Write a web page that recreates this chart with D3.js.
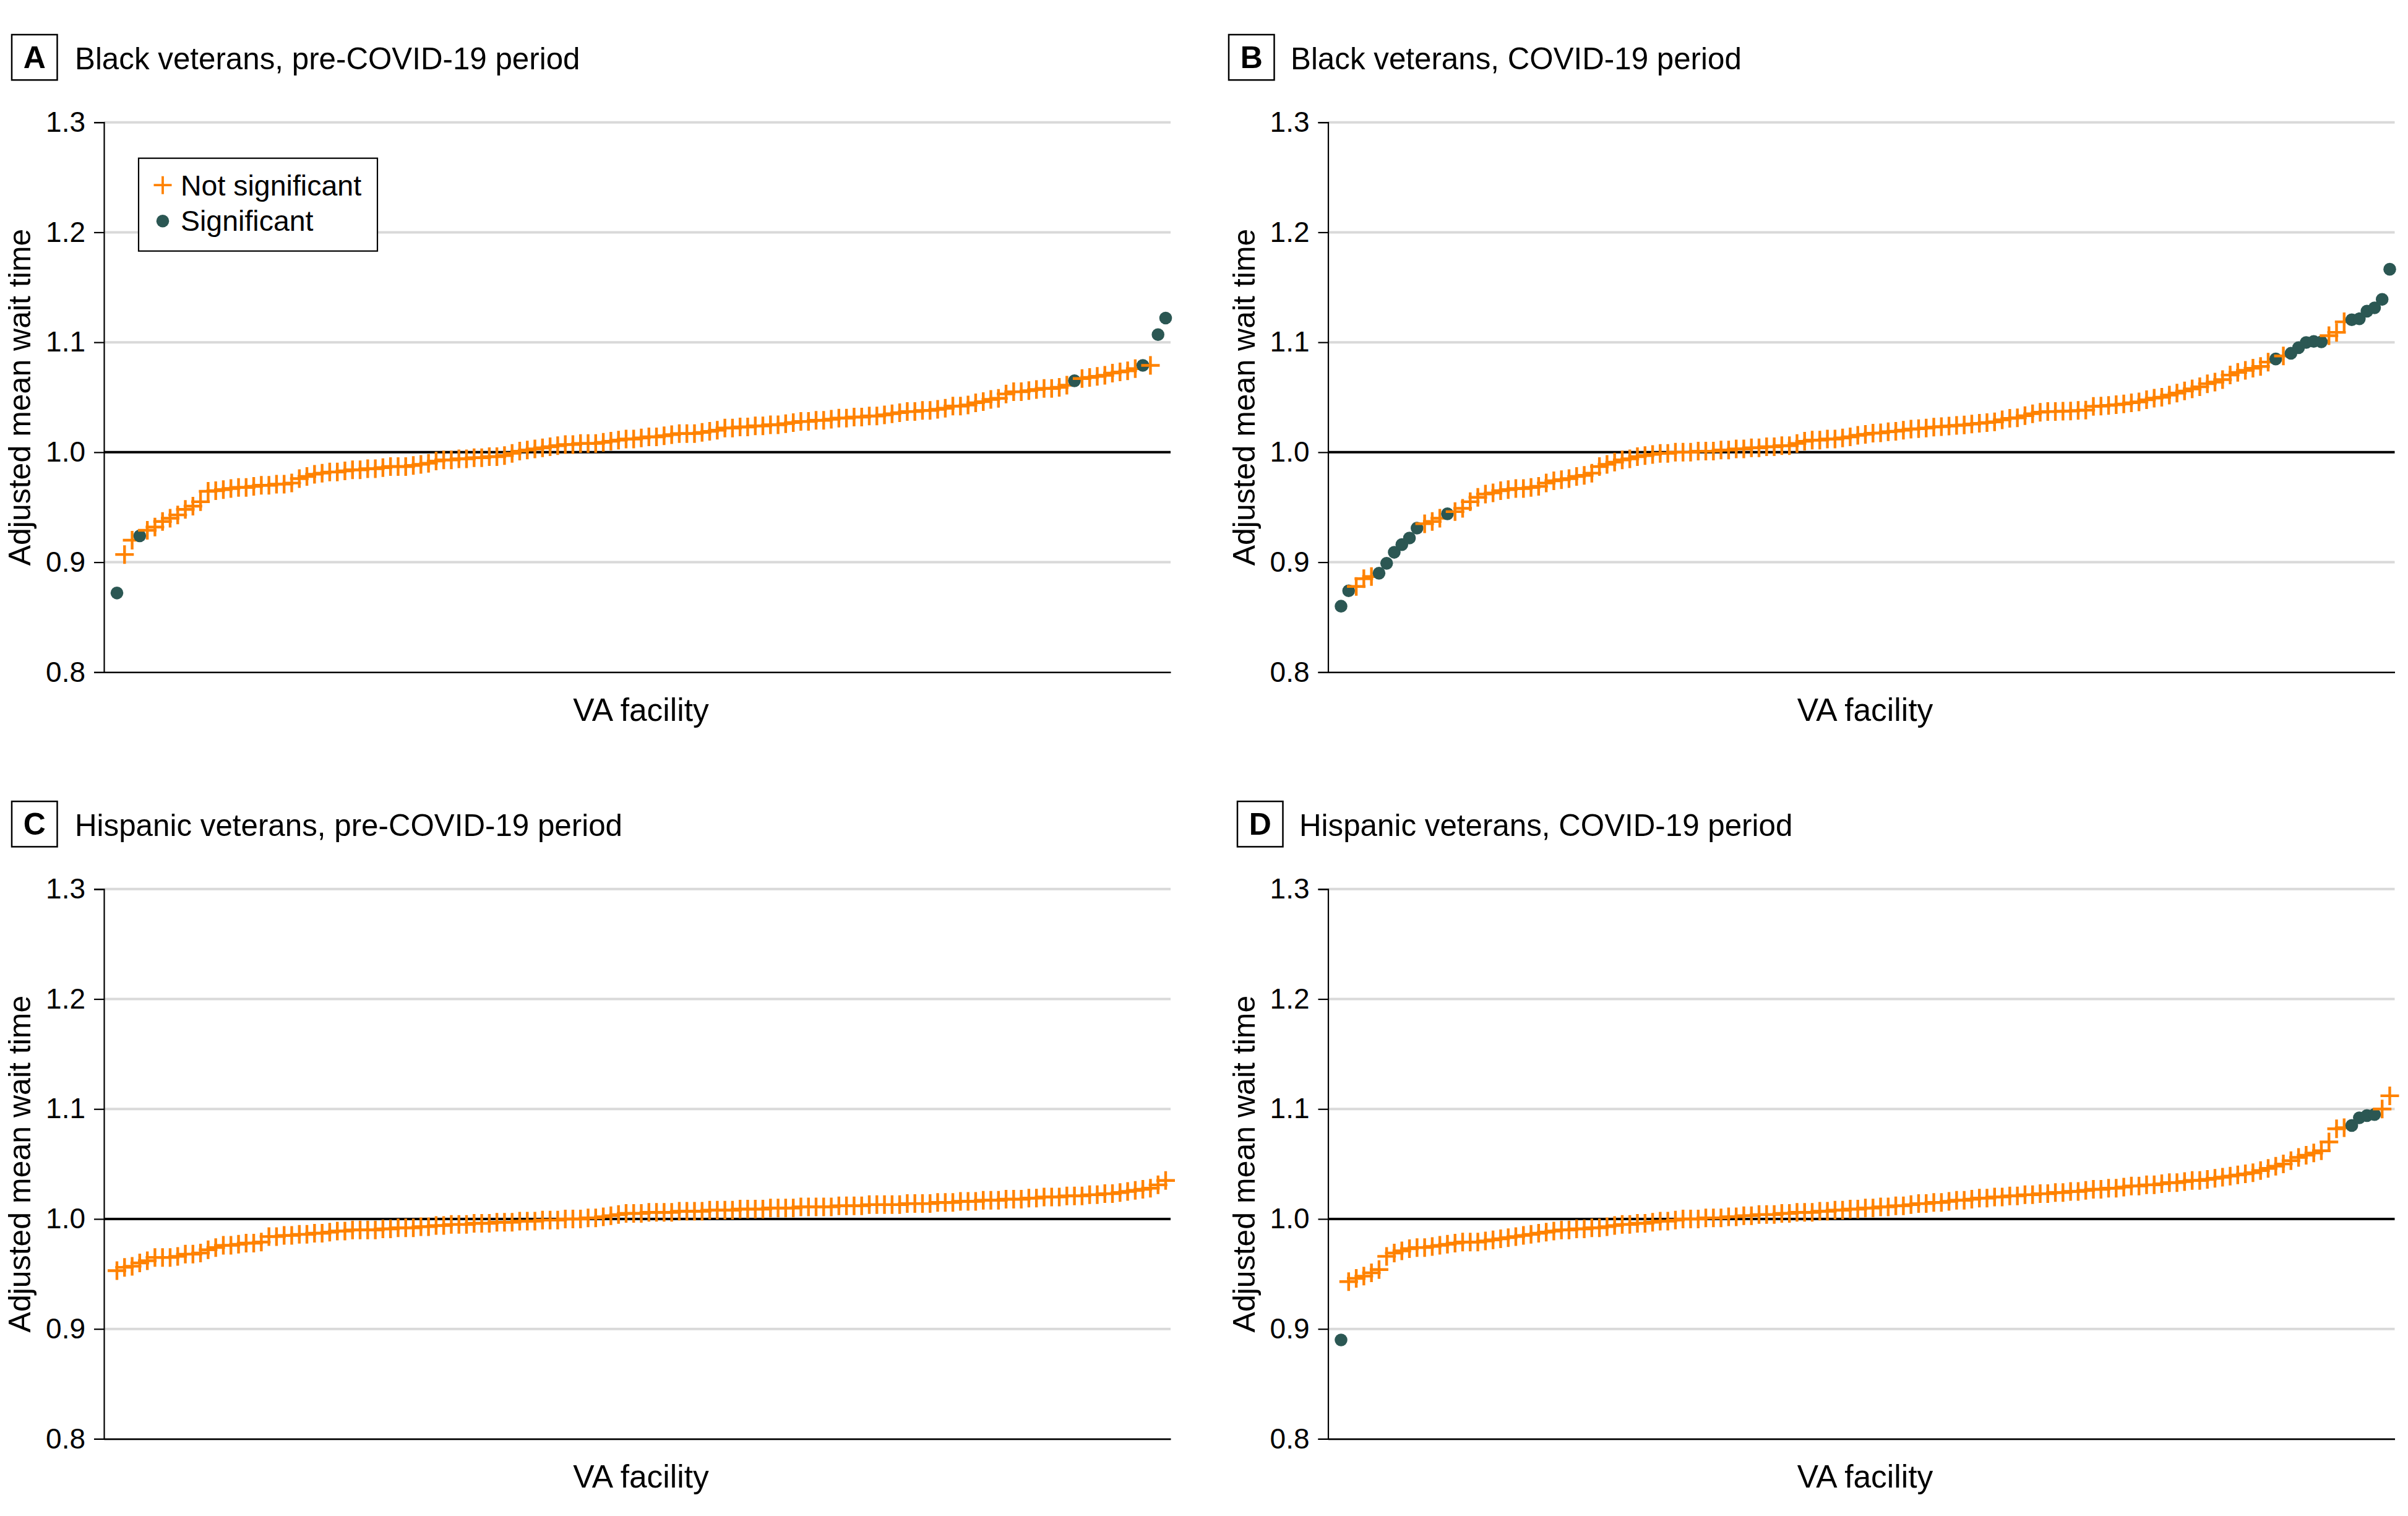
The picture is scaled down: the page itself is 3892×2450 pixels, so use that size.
<!DOCTYPE html>
<html><head><meta charset="utf-8">
<script src="https://cdn.jsdelivr.net/npm/d3@7"></script>
<style>
body{margin:0;background:#fff}
svg text{font-family:"Liberation Sans", Arial, sans-serif; fill:#000}
</style>
</head><body>
<svg id="chart" width="3892" height="2450"></svg>
<script>
// ---------------- DATA ----------------
const yTickValues = [0.8, 0.9, 1.0, 1.1, 1.2, 1.3];
const panelLetters = ["A", "B", "C", "D"];
const panelTitles = [
  "Black veterans, pre-COVID-19 period",
  "Black veterans, COVID-19 period",
  "Hispanic veterans, pre-COVID-19 period",
  "Hispanic veterans, COVID-19 period"
];
const yAxisLabel = "Adjusted mean wait time";
const xAxisLabel = "VA facility";
const legendLabels = ["Not significant", "Significant"];

// Panel A: Black veterans, pre-COVID-19 (facilities sorted by value)
const blackPre = [
  0.872,0.907,0.920,0.924,0.929,0.932,0.937,0.940,0.943,0.948,
  0.951,0.955,0.9645,0.965,0.966,0.967,0.968,0.968,0.969,0.970,
  0.970,0.971,0.971,0.972,0.976,0.978,0.980,0.981,0.982,0.982,
  0.983,0.984,0.984,0.985,0.985,0.986,0.987,0.987,0.987,0.988,
  0.989,0.990,0.992,0.993,0.993,0.994,0.994,0.995,0.995,0.996,
  0.996,0.997,0.999,1.001,1.002,1.003,1.004,1.005,1.006,1.007,
  1.007,1.008,1.008,1.008,1.009,1.010,1.011,1.012,1.012,1.013,
  1.014,1.014,1.015,1.016,1.017,1.017,1.017,1.018,1.019,1.020,
  1.022,1.022,1.023,1.023,1.024,1.024,1.025,1.025,1.026,1.027,
  1.028,1.028,1.029,1.029,1.030,1.031,1.031,1.032,1.032,1.033,
  1.033,1.034,1.035,1.036,1.037,1.037,1.038,1.038,1.039,1.040,
  1.042,1.042,1.043,1.045,1.046,1.048,1.049,1.053,1.055,1.055,
  1.056,1.057,1.058,1.058,1.059,1.061,1.065,1.067,1.068,1.069,
  1.070,1.072,1.073,1.074,1.076,1.079,1.079,1.107,1.122
];
const blackPreSignificant = [0, 3, 126, 135, 137, 138];

// Panel B: Black veterans, COVID-19
const blackCovid = [
  0.860,0.874,0.878,0.885,0.887,0.890,0.899,0.909,0.916,0.922,
  0.931,0.935,0.937,0.940,0.944,0.946,0.949,0.955,0.959,0.962,
  0.963,0.965,0.966,0.967,0.967,0.968,0.969,0.972,0.974,0.975,
  0.976,0.978,0.979,0.981,0.987,0.989,0.991,0.993,0.994,0.996,
  0.997,0.998,0.999,0.999,1.000,1.000,1.000,1.001,1.001,1.001,
  1.002,1.002,1.003,1.003,1.004,1.004,1.005,1.005,1.006,1.006,
  1.008,1.010,1.011,1.011,1.012,1.012,1.013,1.014,1.0154,1.0163,
  1.0173,1.0176,1.0186,1.0191,1.020,1.021,1.0214,1.022,1.0229,1.0233,
  1.0238,1.0244,1.0248,1.0257,1.0263,1.027,1.0276,1.0295,1.0308,1.0313,
  1.0332,1.035,1.0364,1.037,1.037,1.0373,1.0375,1.038,1.0383,1.0417,
  1.042,1.0426,1.0432,1.0439,1.045,1.0458,1.0477,1.0492,1.050,1.052,
  1.0538,1.0557,1.0576,1.0595,1.0623,1.0638,1.066,1.0702,1.0726,1.0745,
  1.0764,1.078,1.082,1.0848,1.0876,1.090,1.0951,1.0998,1.1008,1.1004,
  1.106,1.109,1.1186,1.1205,1.1214,1.1283,1.1313,1.139,1.1664
];
const blackCovidSignificant = [0,1,5,6,7,8,9,10,14,123,125,126,127,128,129,133,134,135,136,137,138];

// Panel C: Hispanic veterans, pre-COVID-19
const hispanicPre = [
  0.953,0.956,0.957,0.960,0.962,0.965,0.965,0.965,0.966,0.968,
  0.968,0.969,0.972,0.974,0.976,0.976,0.977,0.978,0.978,0.979,
  0.984,0.984,0.985,0.985,0.986,0.986,0.987,0.987,0.988,0.989,
  0.989,0.990,0.990,0.990,0.990,0.991,0.991,0.992,0.992,0.992,
  0.993,0.993,0.994,0.994,0.995,0.995,0.995,0.996,0.996,0.996,
  0.997,0.997,0.997,0.998,0.998,0.998,0.999,0.999,0.999,1.000,
  1.000,1.000,1.001,1.001,1.002,1.003,1.004,1.005,1.005,1.005,
  1.006,1.006,1.006,1.006,1.007,1.007,1.007,1.007,1.008,1.008,
  1.008,1.008,1.009,1.009,1.009,1.009,1.010,1.010,1.010,1.010,
  1.011,1.011,1.011,1.011,1.011,1.012,1.012,1.012,1.012,1.013,
  1.013,1.013,1.013,1.013,1.014,1.014,1.014,1.014,1.015,1.015,
  1.015,1.016,1.016,1.016,1.017,1.017,1.017,1.018,1.018,1.018,
  1.019,1.019,1.020,1.020,1.020,1.021,1.021,1.021,1.022,1.022,
  1.023,1.023,1.024,1.025,1.026,1.027,1.028,1.031,1.035
];
const hispanicPreSignificant = [];

// Panel D: Hispanic veterans, COVID-19
const hispanicCovid = [
  0.890,0.943,0.946,0.948,0.951,0.954,0.966,0.969,0.971,0.973,
  0.974,0.974,0.975,0.976,0.977,0.978,0.979,0.979,0.979,0.980,
  0.981,0.982,0.983,0.984,0.985,0.986,0.987,0.988,0.989,0.990,
  0.990,0.991,0.991,0.992,0.992,0.993,0.994,0.995,0.995,0.996,
  0.996,0.997,0.998,0.998,0.999,1.000,1.000,1.000,1.001,1.001,
  1.001,1.002,1.002,1.003,1.003,1.004,1.004,1.004,1.005,1.005,
  1.006,1.006,1.006,1.007,1.007,1.008,1.008,1.009,1.009,1.010,
  1.010,1.011,1.011,1.012,1.012,1.013,1.014,1.014,1.015,1.015,
  1.016,1.017,1.017,1.018,1.019,1.019,1.020,1.020,1.021,1.021,
  1.022,1.022,1.023,1.023,1.024,1.024,1.025,1.025,1.026,1.027,
  1.027,1.028,1.028,1.029,1.030,1.030,1.031,1.031,1.032,1.033,
  1.033,1.034,1.035,1.035,1.036,1.037,1.038,1.039,1.040,1.041,
  1.042,1.044,1.046,1.048,1.050,1.053,1.056,1.058,1.060,1.062,
  1.070,1.082,1.083,1.085,1.092,1.094,1.095,1.100,1.112
];
const hispanicCovidSignificant = [0, 133, 134, 135, 136];

// ---------------- LAYOUT / STYLE ----------------
const COLOR_NS = "#ff8200";
const COLOR_SIG = "#2b5753";
const GRID = "#d9d9d9";
const plotW = 1724, plotH = 888.6;
const TITLE_SIZE = 49.3;

const panels = [
  {values: blackPre, sig: blackPreSignificant, left: 168, top: 197.7, boxX: 19, textX: 121, legend: true},
  {values: blackCovid, sig: blackCovidSignificant, left: 2146.5, top: 197.7, boxX: 1986, textX: 2086, legend: false},
  {values: hispanicPre, sig: hispanicPreSignificant, left: 168, top: 1436.8, boxX: 19, textX: 121, legend: false},
  {values: hispanicCovid, sig: hispanicCovidSignificant, left: 2146.5, top: 1436.8, boxX: 2000, textX: 2100, legend: false}
];

const svg = d3.select("#chart");

const plusType = {
  draw(ctx, size) {
    const r = Math.sqrt(size) / 2;
    ctx.moveTo(-r, 0); ctx.lineTo(r, 0);
    ctx.moveTo(0, -r); ctx.lineTo(0, r);
  }
};
const plusPath = d3.symbol().type(plusType).size(30 * 30)();

panels.forEach((p, pi) => {
  const g = svg.append("g").attr("transform", `translate(${p.left},${p.top})`);
  const n = p.values.length;
  const x = d3.scaleLinear().domain([0, n - 1]).range([21, 1716]);
  const y = d3.scaleLinear().domain([0.8, 1.3]).range([plotH, 0]);

  // gridlines
  g.append("g").selectAll("line").data(yTickValues.filter(v => v > 0.8))
    .join("line")
    .attr("x1", 0).attr("x2", plotW)
    .attr("y1", d => y(d)).attr("y2", d => y(d))
    .attr("stroke", d => Math.abs(d - 1.0) < 1e-9 ? "#000" : GRID)
    .attr("stroke-width", 4);

  // y axis
  const yAxis = d3.axisLeft(y).tickValues(yTickValues).tickSize(16).tickPadding(14)
    .tickFormat(d3.format(".1f"));
  const ya = g.append("g").call(yAxis);
  ya.select(".domain").attr("stroke", "#000").attr("stroke-width", 2.2);
  ya.selectAll(".tick line").attr("stroke", "#000").attr("stroke-width", 2.2);
  ya.selectAll(".tick text").attr("font-size", 46).attr("font-family", "Liberation Sans, Arial, sans-serif").attr("fill", "#000");

  // x axis (no ticks)
  const xa = g.append("g").attr("transform", `translate(0,${plotH})`)
    .call(d3.axisBottom(d3.scaleLinear().range([0, plotW])).tickValues([]).tickSizeOuter(0));
  xa.select(".domain").attr("stroke", "#000").attr("stroke-width", 2.6);

  // axis titles
  g.append("text").attr("transform", `translate(${32 - p.left + (pi % 2 ? 1978.5 : 0)},${plotH / 2}) rotate(-90)`)
    .attr("text-anchor", "middle").attr("dominant-baseline", "central")
    .attr("font-size", 50).text(yAxisLabel);
  g.append("text").attr("x", plotW / 2 + 6).attr("y", plotH + 79)
    .attr("text-anchor", "middle").attr("font-size", 51.5).text(xAxisLabel);

  // data marks
  const pts = p.values.map((v, i) => ({i, v, sig: p.sig.includes(i)}));
  g.append("g").selectAll("g.pt").data(pts).join(enter => {
    const e = enter.append("g").attr("class", "pt")
      .attr("transform", d => `translate(${x(d.i)},${y(d.v)})`);
    e.filter(d => !d.sig).append("path").attr("d", plusPath)
      .attr("stroke", COLOR_NS).attr("stroke-width", 4.4).attr("fill", "none");
    e.filter(d => d.sig).append("circle").attr("r", 10.3).attr("fill", COLOR_SIG);
    return e;
  });

  // panel title
  const titleTop = p.top - 141.7;
  svg.append("rect").attr("x", p.boxX).attr("y", titleTop).attr("width", 73.5).attr("height", 73.3)
    .attr("fill", "none").attr("stroke", "#000").attr("stroke-width", 2.5);
  svg.append("text").attr("x", p.boxX + 36.75).attr("y", titleTop + 54)
    .attr("text-anchor", "middle").attr("font-size", 50).attr("font-weight", "bold")
    .text(panelLetters[pi]);
  svg.append("text").attr("x", p.textX).attr("y", titleTop + 55.7)
    .attr("font-size", TITLE_SIZE).text(panelTitles[pi]);

  // legend
  if (p.legend) {
    const lg = svg.append("g").attr("transform", "translate(224,255.7)");
    lg.append("rect").attr("width", 386).attr("height", 150)
      .attr("fill", "#fff").attr("stroke", "#000").attr("stroke-width", 2.2);
    lg.append("path").attr("transform", "translate(39,43.5)")
      .attr("d", d3.symbol().type(plusType).size(29 * 29)())
      .attr("stroke", COLOR_NS).attr("stroke-width", 3.8).attr("fill", "none");
    lg.append("circle").attr("cx", 39).attr("cy", 101.5).attr("r", 10.3).attr("fill", COLOR_SIG);
    lg.append("text").attr("x", 68).attr("y", 60.5).attr("font-size", 46.5).text(legendLabels[0]);
    lg.append("text").attr("x", 68).attr("y", 117.5).attr("font-size", 46.5).text(legendLabels[1]);
  }
});
</script>
</body></html>
